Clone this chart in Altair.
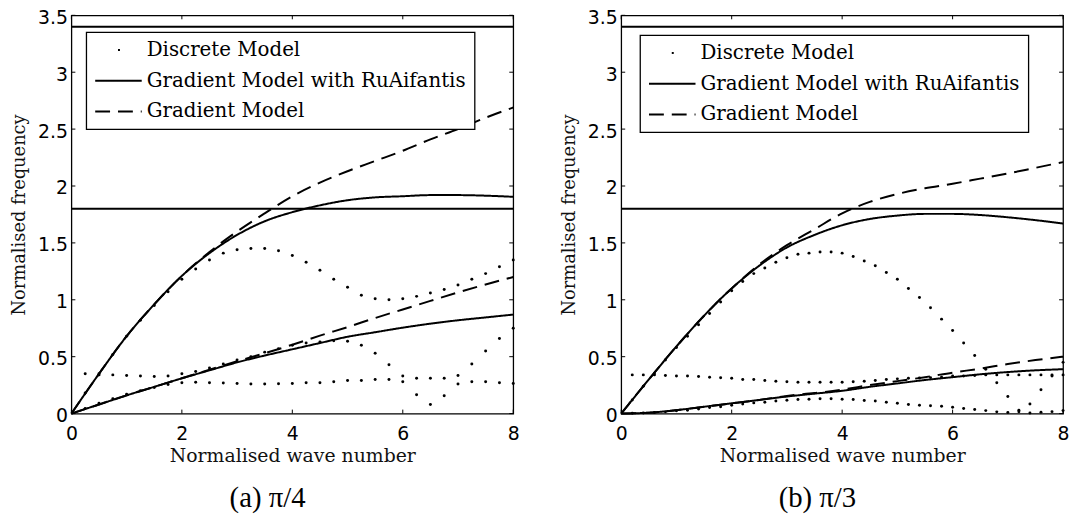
import altair as alt
import pandas as pd

# ---------------- shared ticks / categories ----------------
X_TICKS = [0, 2, 4, 6, 8]
Y_TICKS = [0, 0.5, 1, 1.5, 2, 2.5, 3, 3.5]
MODELS = ["Discrete Model", "Gradient Model with RuAifantis", "Gradient Model"]
BOUND_LINES = [1.8, 3.4]
CURVE_X = [0, 0.5, 1, 1.5, 2, 2.5, 3, 3.5, 4, 4.5, 5, 5.5, 6, 6.5, 7, 7.5, 8]

# ---------------- panel (a) pi/4 ----------------
A_DOT_X = [0.25, 0.5, 0.75, 1.0, 1.25, 1.5, 1.75, 2.0, 2.25, 2.5, 2.75, 3.0,
           3.25, 3.5, 3.75, 4.0, 4.25, 4.5, 4.75, 5.0, 5.25, 5.5, 5.75, 6.0,
           6.25, 6.5, 6.75, 7.0, 7.25, 7.5, 7.75, 8.0]
A_DOT_UPPER = [0.18, 0.35, 0.52, 0.68, 0.82, 0.95, 1.07, 1.18, 1.27, 1.35, 1.41, 1.44,
               1.45, 1.45, 1.43, 1.39, 1.33, 1.26, 1.18, 1.11, 1.04, 1.01, 1.00, 1.01,
               1.03, 1.06, 1.09, 1.13, 1.18, 1.23, 1.29, 1.35]
A_DOT_MIDDLE = [0.35, 0.34, 0.34, 0.335, 0.33, 0.325, 0.33, 0.35, 0.37, 0.40, 0.435, 0.47,
                0.50, 0.54, 0.57, 0.60, 0.62, 0.63, 0.64, 0.635, 0.60, 0.53, 0.43, 0.33,
                0.165, 0.08, 0.156, 0.335, 0.435, 0.55, 0.66, 0.75]
A_DOT_LOWER = [0.045, 0.09, 0.13, 0.17, 0.20, 0.23, 0.255, 0.27, 0.275, 0.27, 0.268, 0.265,
               0.26, 0.26, 0.262, 0.265, 0.27, 0.27, 0.28, 0.29, 0.29, 0.30, 0.30, 0.28,
               0.31, 0.31, 0.31, 0.26, 0.28, 0.28, 0.27, 0.265]
A_RU_UPPER = [0, 0.35, 0.68, 0.96, 1.21, 1.41, 1.57, 1.69, 1.77, 1.83, 1.875, 1.90,
              1.91, 1.92, 1.92, 1.915, 1.905]
A_GR_UPPER = [0, 0.35, 0.68, 0.96, 1.21, 1.42, 1.60, 1.76, 1.91, 2.03, 2.13, 2.22,
              2.31, 2.41, 2.50, 2.60, 2.69]
A_RU_LOWER = [0, 0.08, 0.16, 0.235, 0.31, 0.38, 0.45, 0.51, 0.565, 0.62, 0.675, 0.715,
              0.755, 0.79, 0.82, 0.845, 0.87]
A_GR_LOWER = [0, 0.08, 0.16, 0.235, 0.31, 0.385, 0.46, 0.53, 0.605, 0.685, 0.76, 0.84,
              0.915, 0.99, 1.065, 1.135, 1.20]

# ---------------- panel (b) pi/3 ----------------
B_DOT_X = [0.2, 0.4, 0.6, 0.8, 1.0, 1.2, 1.4, 1.6, 1.8, 2.0, 2.2, 2.4, 2.6, 2.8,
           3.0, 3.2, 3.4, 3.6, 3.8, 4.0, 4.2, 4.4, 4.6, 4.8, 5.0, 5.2, 5.4, 5.6,
           5.8, 6.0, 6.2, 6.4, 6.6, 6.8, 7.0, 7.2, 7.4, 7.6, 7.8, 8.0]
B_DOT_UPPER = [0.12, 0.24, 0.35, 0.47, 0.58, 0.68, 0.78, 0.88, 0.98, 1.08, 1.16, 1.23,
               1.28, 1.33, 1.37, 1.40, 1.41, 1.42, 1.42, 1.41, 1.38, 1.34, 1.30, 1.24,
               1.18, 1.10, 1.02, 0.93, 0.83, 0.73, 0.62, 0.51, 0.39, 0.27, 0.15, 0.03,
               0.084, 0.21, 0.33, 0.45]
B_DOT_MIDDLE = [0.34, 0.34, 0.34, 0.335, 0.33, 0.33, 0.325, 0.32, 0.315, 0.31, 0.30, 0.30,
                0.29, 0.285, 0.28, 0.275, 0.275, 0.275, 0.275, 0.276, 0.28, 0.285, 0.29, 0.30,
                0.305, 0.31, 0.313, 0.316, 0.32, 0.33, 0.33, 0.335, 0.34, 0.34, 0.34, 0.34,
                0.34, 0.34, 0.34, 0.34]
B_DOT_LOWER = [0.002, 0.006, 0.01, 0.015, 0.024, 0.03, 0.04, 0.053, 0.06, 0.074, 0.085, 0.094,
               0.10, 0.11, 0.118, 0.124, 0.126, 0.13, 0.13, 0.126, 0.124, 0.115, 0.11, 0.10,
               0.09, 0.08, 0.074, 0.068, 0.064, 0.055, 0.044, 0.035, 0.026, 0.015, 0.009, 0.015,
               0.006, 0.012, 0.017, 0.026]
B_RU_UPPER = [0, 0.30, 0.59, 0.86, 1.10, 1.30, 1.46, 1.57, 1.655, 1.71, 1.74, 1.755,
              1.755, 1.745, 1.725, 1.70, 1.67]
B_GR_UPPER = [0, 0.30, 0.59, 0.86, 1.10, 1.31, 1.48, 1.62, 1.76, 1.86, 1.93, 1.98,
              2.02, 2.065, 2.11, 2.16, 2.21]
B_RU_LOWER = [0, 0.008, 0.03, 0.06, 0.09, 0.12, 0.15, 0.175, 0.20, 0.235, 0.265, 0.295,
              0.32, 0.345, 0.365, 0.38, 0.39]
B_GR_LOWER = [0, 0.008, 0.03, 0.06, 0.09, 0.12, 0.155, 0.18, 0.21, 0.25, 0.285, 0.32,
              0.36, 0.395, 0.435, 0.47, 0.50]

W, H = 446, 402
SERIF = "DejaVu Serif"
SANS = "DejaVu Sans"


def build_panel(dot_x, dot_branches, curves, caption, leg_x, leg_y):
    xs = alt.Scale(domain=[0, 8], nice=False, zero=False)
    ys = alt.Scale(domain=[0, 3.5], nice=False, zero=False)

    x_axis = alt.Axis(values=X_TICKS, title="Normalised wave number", format="~g",
                      grid=False, ticks=False, tickSize=0, domain=False,
                      labelPadding=11, titlePadding=3, labelFont=SANS, labelFontSize=19,
                      labelColor="black", titleFont=SERIF, titleFontSize=19,
                      titleFontWeight="normal", titleColor="#111111", labelFlush=False)
    y_axis = alt.Axis(values=Y_TICKS, title="Normalised frequency", format="~g",
                      grid=False, ticks=False, tickSize=0, domain=False,
                      labelPadding=4, titlePadding=9, labelOffset=2, labelFont=SANS,
                      labelFontSize=19, labelColor="black", titleFont=SERIF,
                      titleFontSize=18, titleFontWeight="normal", titleColor="#111111")

    rows = []
    for cname, model, vals in curves:
        for xv, yv in zip(CURVE_X, vals):
            rows.append({"x": xv, "y": yv, "model": model, "curve": cname})
    curve_df = pd.DataFrame(rows)

    dot_rows = []
    for bname, vals in dot_branches:
        for xv, yv in zip(dot_x, vals):
            dot_rows.append({"x": xv, "y": yv, "branch": bname})
    dot_df = pd.DataFrame(dot_rows)

    legend = alt.Legend(
        orient="none", legendX=leg_x, legendY=leg_y, title=None,
        symbolType="M-3,0H3", symbolSize=245, symbolStrokeWidth=2,
        symbolStrokeColor="black", symbolFillColor="transparent",
        symbolOffset=14.5, symbolDashOffset=-23,
        labelOffset=18.5, labelFont=SERIF, labelFontSize=20, labelColor="black",
        labelLimit=0, rowPadding=11, padding=8, strokeColor="black",
        fillColor="white", cornerRadius=0,
    )

    X = lambda f: alt.X(f, scale=xs, axis=x_axis)
    Y = lambda f: alt.Y(f, scale=ys, axis=y_axis)

    lines = alt.Chart(curve_df).mark_line(
        color="black", strokeWidth=2, interpolate="monotone"
    ).encode(
        x=X("x:Q"),
        y=Y("y:Q"),
        strokeDash=alt.StrokeDash(
            "model:N",
            scale=alt.Scale(domain=MODELS, range=[[2, 200], [1, 0], [15, 8]]),
            legend=legend,
        ),
        detail="curve:N",
    )

    dots = alt.Chart(dot_df).mark_circle(color="black", size=9, opacity=1).encode(
        x=X("x:Q"), y=Y("y:Q"),
    )

    bounds = alt.Chart(pd.DataFrame({"y": BOUND_LINES})).mark_rule(
        color="black", strokeWidth=2
    ).encode(y=Y("y:Q"))

    xt = alt.Chart(pd.DataFrame({"x": X_TICKS}))
    yt = alt.Chart(pd.DataFrame({"y": Y_TICKS}))
    tick_bottom = xt.mark_rule(color="black", strokeWidth=1).encode(
        x=X("x:Q"), y=alt.value(H), y2=alt.value(H - 4))
    tick_top = xt.mark_rule(color="black", strokeWidth=1).encode(
        x=X("x:Q"), y=alt.value(0), y2=alt.value(4))
    tick_left = yt.mark_rule(color="black", strokeWidth=1).encode(
        y=Y("y:Q"), x=alt.value(0), x2=alt.value(4))
    tick_right = yt.mark_rule(color="black", strokeWidth=1).encode(
        y=Y("y:Q"), x=alt.value(W), x2=alt.value(W - 4))

    return alt.layer(lines, bounds, dots, tick_bottom, tick_top, tick_left, tick_right).properties(
        width=W, height=H,
        title=alt.TitleParams(text=caption, orient="bottom", anchor="middle", frame="group",
                              dx=-25, offset=19, font="Liberation Serif", fontSize=29,
                              fontWeight="normal", color="black"),
    )


panel_a = build_panel(
    A_DOT_X,
    [("upper", A_DOT_UPPER), ("middle", A_DOT_MIDDLE), ("lower", A_DOT_LOWER)],
    [("ru_up", MODELS[1], A_RU_UPPER), ("gr_up", MODELS[2], A_GR_UPPER),
     ("ru_lo", MODELS[1], A_RU_LOWER), ("gr_lo", MODELS[2], A_GR_LOWER)],
    "(a) π/4", 15, 17,
)
panel_b = build_panel(
    B_DOT_X,
    [("upper", B_DOT_UPPER), ("middle", B_DOT_MIDDLE), ("lower", B_DOT_LOWER)],
    [("ru_up", MODELS[1], B_RU_UPPER), ("gr_up", MODELS[2], B_GR_UPPER),
     ("ru_lo", MODELS[1], B_RU_LOWER), ("gr_lo", MODELS[2], B_GR_LOWER)],
    "(b) π/3", 19, 20,
)

chart = (
    alt.hconcat(panel_a, panel_b, spacing=40)
    .resolve_scale(strokeDash="independent")
    .properties(padding={"left": 2, "top": -3, "right": 0, "bottom": 0}, background="white")
    .configure_view(stroke="black", strokeWidth=1.3)
    .configure_legend(strokeWidth=1.3)
)

chart.save("out.html", embed_options={"renderer": "svg", "actions": False})
